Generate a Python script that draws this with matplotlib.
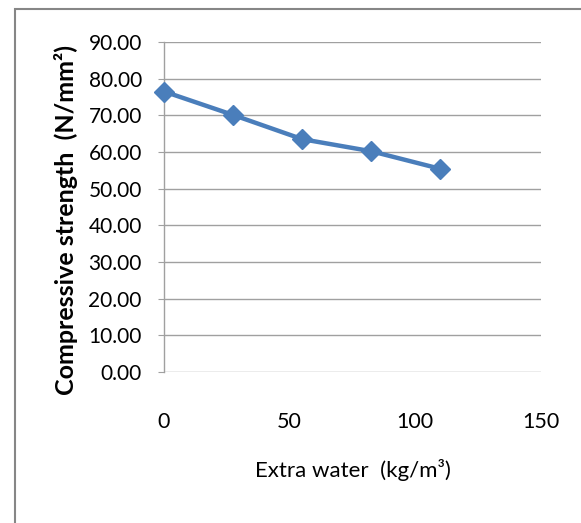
import matplotlib.pyplot as plt
from matplotlib.patches import Rectangle

# data
extra_water = [0, 27.5, 55, 82.5, 110]
strength = [76.5, 70.1, 63.5, 60.2, 55.4]
y_ticks = [0, 10, 20, 30, 40, 50, 60, 70, 80, 90]
x_ticks = [0, 50, 100, 150]

plt.rcParams['font.family'] = ['Lato', 'DejaVu Sans']

fig = plt.figure(figsize=(5.81, 5.23), dpi=100)
ax = fig.add_axes([164 / 581, 1 - 372 / 523, 377 / 581, 330 / 523])

# chart area outline (runs off the right and bottom edges)
fig.patches.append(Rectangle((14.5 / 581, -0.05), 1.2, 1 - 8.5 / 523 + 0.05,
                             transform=fig.transFigure, fill=False,
                             edgecolor='#868686', linewidth=1.5))

ax.plot(extra_water, strength, color='#4A7EBB', linewidth=3.2,
        marker='D', markersize=10, markerfacecolor='#4A7EBB',
        markeredgecolor='#4A7EBB', clip_on=False, zorder=3)

ax.set_xlim(0, 150)
ax.set_ylim(0, 90)
ax.set_yticks(y_ticks)
ax.set_yticklabels([f"{v:.2f}" for v in y_ticks])
ax.set_xticks(x_ticks)
ax.set_xticklabels([str(v) for v in x_ticks])

ax.grid(axis='y', color='#A0A0A0', linewidth=1.0)
ax.set_axisbelow(True)
for side in ['top', 'right', 'bottom']:
    ax.spines[side].set_visible(False)
ax.spines['left'].set_color('#A0A0A0')
ax.spines['left'].set_linewidth(1.0)

ax.tick_params(axis='y', length=4, color='#A0A0A0', labelsize=15, pad=12)
ax.tick_params(axis='x', length=0, labelsize=15.5, pad=29)

ax.set_xlabel('Extra water  (kg/m³)', fontsize=16, labelpad=19)
ax.set_ylabel('Compressive strength  (N/mm²)', fontsize=18, fontweight='bold')
# label sits a little below the axes centre, as in the original
ax.yaxis.set_label_coords(-0.228, 0.46)

fig.savefig('out.png', dpi=100)
